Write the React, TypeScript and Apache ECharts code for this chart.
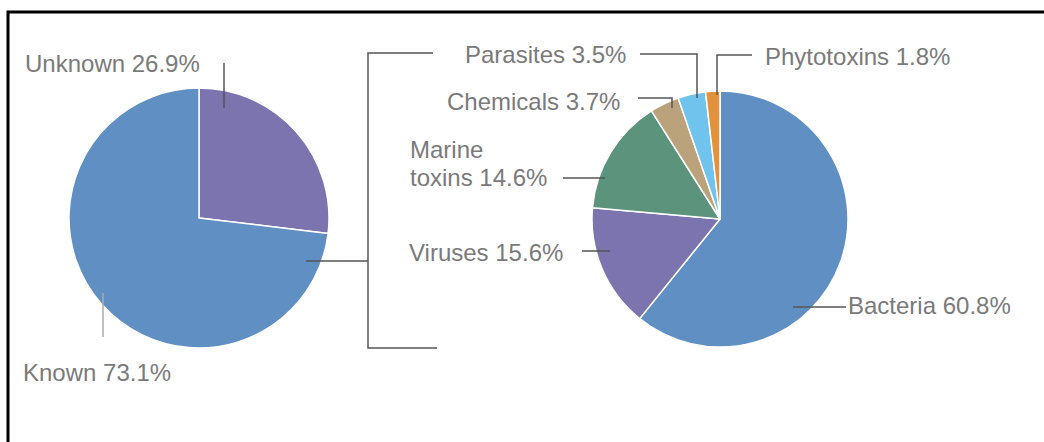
import React, { useEffect, useRef } from "react";
import * as echarts from "echarts";

const outerNames = ["Unknown", "Known"];
const outerValues = [26.9, 73.1];
const outerColors = ["#7b74ae", "#5f8fc3"];

const innerNames = ["Bacteria", "Viruses", "Marine\ntoxins", "Chemicals", "Parasites", "Phytotoxins"];
const innerValues = [60.8, 15.6, 14.6, 3.7, 3.5, 1.8];
const innerColors = ["#5f8fc3", "#7b74ae", "#5b937c", "#b9a27c", "#6fc3ec", "#e2913c"];

// label anchor positions (left x, middle y)
const outerLabelPos = [[25, 63], [23, 372]];
const innerLabelPos = [[848, 305], [409, 252], [410, 163], [447, 101], [465, 54], [765, 56]];

const leaderLines: { pts: number[][]; color: string }[] = [
  { pts: [[224, 63], [224, 108]], color: "#555" },
  { pts: [[103, 293], [103, 337]], color: "#aaa" },
  { pts: [[306, 261], [368, 261]], color: "#555" },
  { pts: [[433, 53], [368, 53], [368, 348], [437, 348]], color: "#555" },
  { pts: [[640, 54], [697, 54], [697, 98]], color: "#555" },
  { pts: [[638, 98], [672, 98], [672, 108]], color: "#555" },
  { pts: [[563, 178], [605, 178]], color: "#555" },
  { pts: [[582, 251], [610, 251]], color: "#555" },
  { pts: [[752, 55], [717, 55], [717, 95]], color: "#555" },
  { pts: [[793, 307], [846, 307]], color: "#555" },
];

export default function App() {
  const ref = useRef<HTMLDivElement>(null);
  useEffect(() => {
    document.body.style.margin = "0";
    const chart = echarts.init(ref.current!, null, { renderer: "svg" });
    const labelStyle = {
      show: true,
      position: "outside" as const,
      formatter: (p: any) => `${p.name} ${p.value}%`,
      color: "#7a7a7a",
      fontSize: 24,
      fontFamily: "Liberation Sans, Arial, sans-serif",
      lineHeight: 28,
      overflow: "none" as const,
    };
    chart.setOption({
      animation: false,
      backgroundColor: "#ffffff",
      graphic: [
        {
          type: "rect",
          shape: { x: 8, y: 12, width: 1100, height: 600 },
          style: { fill: "none", stroke: "#000", lineWidth: 3 },
          silent: true,
        },
        ...leaderLines.map((l) => ({
          type: "polyline",
          shape: { points: l.pts },
          style: { stroke: l.color, lineWidth: 1.5, fill: "none" },
          silent: true,
          z: 10,
        })),
      ],
      series: [
        {
          type: "pie",
          center: [199, 218],
          radius: [0, 130],
          startAngle: 90,
          clockwise: true,
          avoidLabelOverlap: false,
          itemStyle: { borderColor: "#ffffff", borderWidth: 1.5 },
          label: labelStyle,
          labelLine: { show: false },
          labelLayout: (p: any) => ({
            x: outerLabelPos[p.dataIndex][0],
            y: outerLabelPos[p.dataIndex][1],
            align: "left",
            verticalAlign: "middle",
          }),
          data: outerNames.map((n, i) => ({
            name: n,
            value: outerValues[i],
            itemStyle: { color: outerColors[i] },
          })),
        },
        {
          type: "pie",
          center: [720, 219],
          radius: [0, 128],
          startAngle: 90,
          clockwise: true,
          avoidLabelOverlap: false,
          itemStyle: { borderColor: "#ffffff", borderWidth: 1.5 },
          label: labelStyle,
          labelLine: { show: false },
          labelLayout: (p: any) => ({
            x: innerLabelPos[p.dataIndex][0],
            y: innerLabelPos[p.dataIndex][1],
            align: "left",
            verticalAlign: "middle",
          }),
          data: innerNames.map((n, i) => ({
            name: n,
            value: innerValues[i],
            itemStyle: { color: innerColors[i] },
          })),
        },
      ],
    });
    return () => chart.dispose();
  }, []);
  return <div ref={ref} style={{ width: 1044, height: 442 }} />;
}
